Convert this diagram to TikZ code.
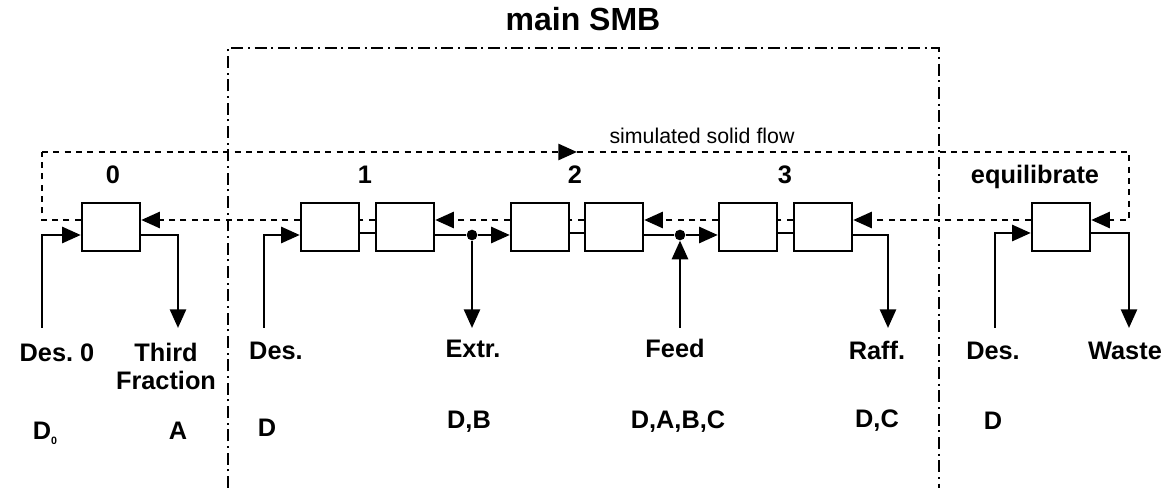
\documentclass[tikz,border=0pt]{standalone}
\usepackage{fontspec}
\setmainfont{Liberation Sans}
\usetikzlibrary{arrows.meta,calc}

\begin{document}
\begin{tikzpicture}[x=0.75pt,y=-0.75pt,
  column/.style={draw,line width=1.8pt,fill=white,minimum width=43.5pt,minimum height=36pt,inner sep=0pt},
  pipe/.style={line width=2pt},
  flow/.style={line width=2pt,dash pattern=on 4.5pt off 4pt},
  zone/.style={line width=1.6pt,dash pattern=on 9pt off 3.5pt on 1.5pt off 3.5pt},
  tip/.style={-{Triangle[length=14pt,width=12pt]}},
  junction/.style={circle,fill=black,inner sep=0pt,minimum size=8pt},
  lbl/.style={anchor=base,inner sep=0pt,font=\bfseries\fontsize{19}{22}\selectfont},
  head/.style={anchor=base,inner sep=0pt,font=\bfseries\fontsize{24}{28}\selectfont},
  note/.style={anchor=base,inner sep=0pt,font=\fontsize{16}{19}\selectfont}
]
\useasboundingbox (0,0) rectangle (1168,488);

% zone boundary of the main SMB unit
\draw[zone] (228,488) -- (228,48) -- (939,48) -- (939,488);
\node[head] (title) at (583,31) {main SMB};

% columns
\node[column] (B0)  at (111,227) {};
\node[column] (B1a) at (330,227) {};
\node[column] (B1b) at (405,227) {};
\node[column] (B2a) at (540,227) {};
\node[column] (B2b) at (614,227) {};
\node[column] (B3a) at (748,227) {};
\node[column] (B3b) at (823,227) {};
\node[column] (Beq) at (1061,227) {};

% zone numbers
\node[lbl] (z0) at (113,184) {0};
\node[lbl] (z1) at (365,184) {1};
\node[lbl] (z2) at (575,184) {2};
\node[lbl] (z3) at (785,184) {3};
\node[lbl] (zeq) at (1035,184) {equilibrate};

% simulated solid flow (dotted, right to left through the columns)
\coordinate (LT) at (42,152);
\coordinate (MT) at (577,152);
\coordinate (RT) at (1129,152);
\node[note] (sflow) at (702,144) {simulated solid flow};
\draw[flow] ($(B0.west)+(0,-7)$) -| (LT);
\draw[flow,tip] (LT) -- (MT);
\draw[flow,tip] (MT) -- (RT) |- ($(Beq.east)+(0,-7)$);
\draw[flow,tip] ($(Beq.west)+(0,-7)$) -- ($(B3b.east)+(0,-7)$);
\draw[flow] ($(B3b.west)+(0,-7)$) -- ($(B3a.east)+(0,-7)$);
\draw[flow,tip] ($(B3a.west)+(0,-7)$) -- ($(B2b.east)+(0,-7)$);
\draw[flow] ($(B2b.west)+(0,-7)$) -- ($(B2a.east)+(0,-7)$);
\draw[flow,tip] ($(B2a.west)+(0,-7)$) -- ($(B1b.east)+(0,-7)$);
\draw[flow] ($(B1b.west)+(0,-7)$) -- ($(B1a.east)+(0,-7)$);
\draw[flow,tip] ($(B1a.west)+(0,-7)$) -- ($(B0.east)+(0,-7)$);

% liquid streams
\coordinate (in0)  at (42,328);
\coordinate (out0) at (178,328);
\coordinate (in1)  at (264,328);
\coordinate (ext)  at (472,328);
\coordinate (fin)  at (680,328);
\coordinate (raf)  at (888,328);
\coordinate (ineq) at (995,328);
\coordinate (wst)  at (1129,328);

\node[junction] (jE) at (472,235) {};
\node[junction] (jF) at (680,235) {};

\draw[pipe,tip] (in0) |- ($(B0.west)+(0,8)$);
\draw[pipe,tip] ($(B0.east)+(0,8)$) -| (out0);
\draw[pipe,tip] (in1) |- ($(B1a.west)+(0,8)$);
\draw[pipe] ($(B1a.east)+(0,6)$) -- ($(B1b.west)+(0,6)$);
\draw[pipe] ($(B1b.east)+(0,8)$) -- (jE);
\draw[pipe,tip] (jE) -- ($(B2a.west)+(0,8)$);
\draw[pipe,tip] (jE) -- (ext);
\draw[pipe] ($(B2a.east)+(0,6)$) -- ($(B2b.west)+(0,6)$);
\draw[pipe] ($(B2b.east)+(0,8)$) -- (jF);
\draw[pipe,tip] (jF) -- ($(B3a.west)+(0,8)$);
\draw[pipe,tip] (fin) -- (jF.south);
\draw[pipe] ($(B3a.east)+(0,6)$) -- ($(B3b.west)+(0,6)$);
\draw[pipe,tip] ($(B3b.east)+(0,8)$) -| (raf);
\draw[pipe,tip] (ineq) |- ($(Beq.west)+(0,6)$);
\draw[pipe,tip] ($(Beq.east)+(0,6)$) -| (wst);

% stream names
\node[lbl] (n0) at (57,362) {Des.\ 0};
\node[lbl,align=center] (n1) at (166,390) {Third\\[-0.5pt]Fraction};
\node[lbl] (n2) at (276,360) {Des.};
\node[lbl] (n3) at (473,358) {Extr.};
\node[lbl] (n4) at (675,358) {Feed};
\node[lbl] (n5) at (877,360) {Raff.};
\node[lbl] (n6) at (993,360) {Des.};
\node[lbl] (n7) at (1125,359) {Waste};

% stream compositions
\node[lbl] (c0) at (45,440) {D\raisebox{-0.35ex}{\fontsize{8}{8}\selectfont 0}};
\node[lbl] (c1) at (178,440) {A};
\node[lbl] (c2) at (267,436) {D};
\node[lbl] (c3) at (469,428) {D,B};
\node[lbl] (c4) at (678,428) {D,A,B,C};
\node[lbl] (c5) at (877,427) {D,C};
\node[lbl] (c6) at (993,429) {D};
\end{tikzpicture}
\end{document}
